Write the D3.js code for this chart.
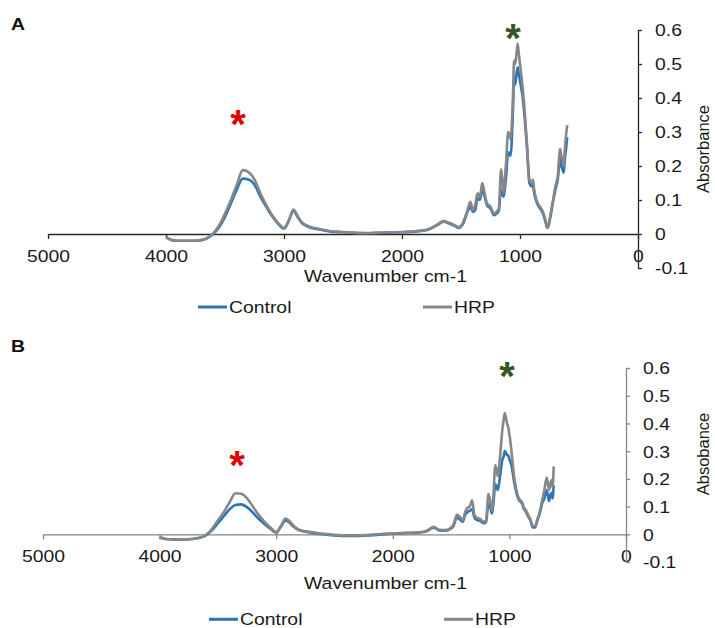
<!DOCTYPE html>
<html>
<head>
<meta charset="utf-8">
<script src="https://cdn.jsdelivr.net/npm/d3@7"></script>
<style>
  body { margin: 0; background: #fff; }
  svg { display: block; font-family: Arial, 'Liberation Sans', sans-serif; }
</style>
</head>
<body>
<div id="chart"></div>
<script>
// wavenumbers (cm-1)
var wavenumbers = [
  4000, 3950, 3900, 3850, 3800, 3750, 3700, 3650, 3600, 3550,
  3500, 3450, 3400, 3350, 3300, 3250, 3200, 3150, 3100, 3050,
  3000, 2960, 2920, 2880, 2850, 2800, 2700, 2600, 2500, 2400,
  2300, 2200, 2100, 2000, 1900, 1800, 1750, 1700, 1650, 1600,
  1550, 1520, 1480, 1450, 1420, 1400, 1380, 1360, 1340, 1320,
  1300, 1280, 1250, 1220, 1200, 1180, 1160, 1150, 1140, 1120,
  1100, 1080, 1060, 1050, 1040, 1030, 1020, 1010, 1000, 990,
  980, 960, 940, 920, 900, 890, 880, 860, 840, 820,
  800, 780, 770, 760, 740, 720, 700, 680, 660, 650,
  640, 630, 620, 610, 600
];

// panel A
var controlA = [
  -0.009, -0.018, -0.02, -0.02, -0.02, -0.02, -0.018, -0.012, 0.0, 0.02,
  0.05, 0.09, 0.13, 0.163, 0.16, 0.145, 0.11, 0.08, 0.052, 0.03,
  0.016, 0.038, 0.068, 0.047, 0.033, 0.022, 0.013, 0.007, 0.005, 0.003,
  0.002, 0.003, 0.004, 0.005, 0.007, 0.011, 0.017, 0.026, 0.036, 0.031,
  0.023, 0.018, 0.032, 0.06, 0.08, 0.065, 0.07, 0.105, 0.1, 0.13,
  0.11, 0.085, 0.075, 0.055, 0.06, 0.068, 0.13, 0.12, 0.11, 0.16,
  0.24, 0.23, 0.36, 0.46, 0.44, 0.47, 0.49, 0.47, 0.45, 0.43,
  0.41, 0.34, 0.25, 0.15, 0.14, 0.145, 0.12, 0.095, 0.08, 0.07,
  0.055, 0.03, 0.018, 0.022, 0.055, 0.095, 0.13, 0.16, 0.23, 0.2,
  0.19, 0.18, 0.22, 0.25, 0.285
];
var hrpA = [
  -0.009, -0.018, -0.02, -0.02, -0.02, -0.02, -0.018, -0.012, 0.002, 0.025,
  0.06, 0.1, 0.145, 0.188, 0.182, 0.16, 0.12, 0.085, 0.055, 0.033,
  0.018, 0.04, 0.072, 0.05, 0.035, 0.024, 0.015, 0.008, 0.006, 0.004,
  0.003, 0.004, 0.005, 0.006, 0.008, 0.012, 0.018, 0.028, 0.038, 0.033,
  0.025, 0.02, 0.035, 0.065, 0.095, 0.07, 0.085, 0.12, 0.11, 0.15,
  0.12, 0.09, 0.08, 0.06, 0.065, 0.075, 0.19, 0.16, 0.12, 0.2,
  0.3, 0.28, 0.4, 0.51, 0.5, 0.53, 0.56, 0.53, 0.5, 0.47,
  0.44, 0.36, 0.26, 0.16, 0.15, 0.16, 0.13, 0.1, 0.085, 0.075,
  0.06, 0.035, 0.02, 0.025, 0.06, 0.1, 0.14, 0.17, 0.25, 0.23,
  0.22, 0.2, 0.25, 0.29, 0.32
];

// panel B (trace stops near 620)
var controlB = [
  -0.011, -0.017, -0.018, -0.019, -0.019, -0.018, -0.016, -0.012, -0.003, 0.015,
  0.04, 0.065, 0.09, 0.106, 0.108, 0.098, 0.078, 0.056, 0.037, 0.02,
  0.006, 0.027, 0.05, 0.04, 0.027, 0.014, 0.006, 0.0, -0.004, -0.006,
  -0.006, -0.004, -0.001, 0.002, 0.004, 0.005, 0.007, 0.013, 0.024, 0.014,
  0.013, 0.016, 0.03, 0.06, 0.052, 0.045, 0.07, 0.08, 0.085, 0.09,
  0.06, 0.052, 0.048, 0.04, 0.045, 0.11, 0.09, 0.075, 0.1, 0.18,
  0.16, 0.21, 0.27, 0.28, 0.3, 0.295, 0.285, 0.285, 0.27, 0.26,
  0.245, 0.19, 0.15, 0.125, 0.115, 0.11, 0.095, 0.083, 0.065, 0.05,
  0.025, 0.025, 0.035, 0.05, 0.075, 0.11, 0.13, 0.16, 0.12, 0.14,
  0.15, 0.13, 0.177, null, null
];
var hrpB = [
  -0.011, -0.017, -0.018, -0.019, -0.019, -0.018, -0.016, -0.012, -0.002, 0.02,
  0.05, 0.08, 0.115, 0.148, 0.146, 0.13, 0.1, 0.07, 0.045, 0.025,
  0.008, 0.03, 0.057, 0.045, 0.03, 0.016, 0.008, 0.002, -0.002, -0.004,
  -0.004, -0.002, 0.001, 0.003, 0.005, 0.006, 0.008, 0.015, 0.027, 0.016,
  0.015, 0.018, 0.035, 0.07, 0.06, 0.05, 0.08, 0.095, 0.1, 0.123,
  0.07, 0.06, 0.055, 0.045, 0.05, 0.145, 0.11, 0.087, 0.12, 0.25,
  0.21, 0.28, 0.38, 0.41, 0.437, 0.42, 0.4, 0.385, 0.36, 0.33,
  0.29, 0.21, 0.16, 0.13, 0.12, 0.115, 0.1, 0.088, 0.07, 0.055,
  0.03, 0.03, 0.04, 0.055, 0.08, 0.12, 0.16, 0.205, 0.16, 0.18,
  0.195, 0.17, 0.245, null, null
];

var xTicks = [5000, 4000, 3000, 2000, 1000, 0];
var yTicks = [-0.1, 0, 0.1, 0.2, 0.3, 0.4, 0.5, 0.6];
var seriesNames = ['Control', 'HRP'];
var xTitle = 'Wavenumber cm-1';

var width = 715, height = 628;
var seriesColors = ['#2e75b6', '#878787'];
var stretch = 'scale(1.14,1)';

var panels = [
  { label: 'A', yTitle: 'Absorbance', series: [controlA, hrpA],
    x0: 48, x1: 638, yTop: 30, yBot: 268, axisColor: '#262626',
    labelY: 30, yTitleY: 149, legendDy: 73, legendX: [198, 423], titleDy: 48,
    stars: [{ wn: 3390, v: 0.347, color: '#e00000' }, { wn: 1059, v: 0.6, color: '#375623' }] },
  { label: 'B', yTitle: 'Absobance', series: [controlB, hrpB],
    x0: 43, x1: 626, yTop: 368, yBot: 562, axisColor: '#868686',
    labelY: 352, yTitleY: 454, legendDy: 85, legendX: [209, 444], titleDy: 55,
    stars: [{ wn: 3336, v: 0.278, color: '#e00000' }, { wn: 1020, v: 0.6, color: '#375623' }] }
];

var svg = d3.select('#chart')
  .append('svg')
    .attr('width', width)
    .attr('height', height);

panels.forEach(function(p) {
  var x = d3.scaleLinear().domain([5000, 0]).range([p.x0, p.x1]);
  var y = d3.scaleLinear().domain([-0.1, 0.6]).range([p.yBot, p.yTop]);
  var y0 = y(0);

  var g = svg.append('g');

  // panel letter
  g.append('text')
    .attr('transform', 'translate(11,' + p.labelY + ') ' + stretch)
    .attr('font-size', 17)
    .attr('font-weight', 'bold')
    .attr('fill', '#111')
    .text(p.label);

  // x axis along zero
  var xAxis = g.append('g')
    .attr('transform', 'translate(0,' + y0 + ')')
    .call(d3.axisBottom(x).tickValues(xTicks).tickSize(5).tickSizeOuter(0).tickFormat(d3.format('d')));
  xAxis.selectAll('path, line').attr('stroke', p.axisColor).attr('stroke-width', 1.3);
  xAxis.selectAll('text')
    .attr('y', 28)
    .attr('dy', null)
    .attr('transform', stretch)
    .attr('font-size', 17)
    .attr('fill', '#1a1a1a');

  // y axis at wavenumber 0
  var yAxis = g.append('g')
    .attr('transform', 'translate(' + x(0) + ',0)')
    .call(d3.axisRight(y).tickValues(yTicks).tickSize(4).tickSizeOuter(0)
      .tickFormat(function(d) { return String(d); }));
  yAxis.selectAll('path, line').attr('stroke', p.axisColor).attr('stroke-width', 1.3);
  yAxis.selectAll('text')
    .attr('x', 0)
    .attr('dy', '0.35em')
    .attr('transform', 'translate(17,0) ' + stretch)
    .attr('font-size', 17)
    .attr('fill', '#1a1a1a');

  // axis titles
  g.append('text')
    .attr('transform', 'translate(' + 385.5 + ',' + (y0 + p.titleDy) + ') ' + stretch)
    .attr('text-anchor', 'middle')
    .attr('font-size', 17)
    .attr('fill', '#1a1a1a')
    .text(xTitle);

  g.append('text')
    .attr('transform', 'translate(709,' + p.yTitleY + ') rotate(-90)')
    .attr('text-anchor', 'middle')
    .attr('font-size', 16.5)
    .attr('fill', '#1a1a1a')
    .text(p.yTitle);

  // spectra
  var line = d3.line()
    .defined(function(d) { return d[1] != null; })
    .x(function(d) { return x(d[0]); })
    .y(function(d) { return y(d[1]); })
    .curve(d3.curveMonotoneX);

  p.series.forEach(function(vals, i) {
    g.append('path')
      .datum(wavenumbers.map(function(w, j) { return [w, vals[j]]; }))
      .attr('fill', 'none')
      .attr('stroke', seriesColors[i])
      .attr('stroke-width', 2.6)
      .attr('stroke-linejoin', 'round')
      .attr('d', line);
  });

  // asterisks
  p.stars.forEach(function(s) {
    g.append('text')
      .attr('x', x(s.wn))
      .attr('y', y(s.v) + 22)
      .attr('text-anchor', 'middle')
      .attr('font-size', 40)
      .attr('font-weight', 'bold')
      .attr('fill', s.color)
      .text('*');
  });

  // legend
  var ly = y0 + p.legendDy;
  seriesNames.forEach(function(name, i) {
    var lx = p.legendX[i];
    g.append('line')
      .attr('x1', lx).attr('x2', lx + 29)
      .attr('y1', ly).attr('y2', ly)
      .attr('stroke', seriesColors[i])
      .attr('stroke-width', 3);
    g.append('text')
      .attr('transform', 'translate(' + (lx + 31) + ',' + (ly + 6) + ') ' + stretch)
      .attr('font-size', 17)
      .attr('fill', '#1a1a1a')
      .text(name);
  });
});
</script>
</body>
</html>
